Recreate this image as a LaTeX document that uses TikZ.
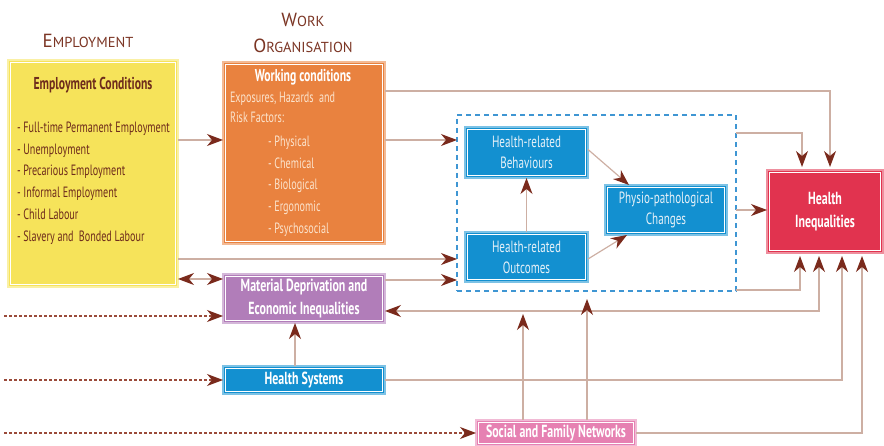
\documentclass[tikz,border=0pt]{standalone}
\usepackage{fontspec}
\setmainfont{PT Sans}
\newfontfamily\condfont[FakeStretch=0.68]{PT Sans}
\usetikzlibrary{arrows.meta}

\definecolor{empfill}{HTML}{F6E35A}
\definecolor{workfill}{HTML}{E9823F}
\definecolor{bluefill}{HTML}{1390D0}
\definecolor{hifill}{HTML}{E1334F}
\definecolor{matfill}{HTML}{B17DB9}
\definecolor{netfill}{HTML}{E681B2}
\definecolor{linec}{HTML}{CDAFA3}
\definecolor{tipc}{HTML}{7A2A1C}
\definecolor{dashc}{HTML}{9A4A3A}
\definecolor{framec}{HTML}{3F96D3}
\definecolor{headc}{HTML}{7B3524}
\definecolor{listc}{HTML}{6E2C1C}
\definecolor{worktext}{HTML}{FBE3CC}
\definecolor{bluetext}{HTML}{E6F1F8}

\tikzset{
  tipk/.tip={Stealth[length=16pt,width=12pt,inset=5pt,color=tipc]},
}

\begin{document}
\begin{tikzpicture}[x=1pt,y=-1pt,
  every node/.style={inner sep=0pt, outer sep=0pt},
  box/.style={fill=#1, draw=#1!55!white, line width=1.6pt, text=bluetext,
    align=center, anchor=north west,
    font=\condfont\fontsize{16.3}{21}\selectfont,
    path picture={\draw[white, line width=0.8pt]
      ([shift={(2.6pt,-2.6pt)}]path picture bounding box.north west) rectangle
      ([shift={(-2.6pt,2.6pt)}]path picture bounding box.south east);}},
  boldbox/.style={box=#1, text=white, font=\condfont\bfseries\fontsize{17.5}{22.5}\selectfont},
  head/.style={text=headc, anchor=base},
  listtext/.style={anchor=north west, align=left, font=\condfont\fontsize{14.9}{21.7}\selectfont},
  link/.style={draw=linec, line width=1.2pt, -tipk},
  linkboth/.style={draw=linec, line width=1.2pt, tipk-tipk},
  dlink/.style={draw=dashc, line width=1.3pt, dash pattern=on 3pt off 2pt, -tipk},
]
\useasboundingbox (0,0) rectangle (884,446);

% column headings
\node[head] (emphead) at (88,48) {\fontsize{19}{19}\selectfont E\fontsize{14.5}{14.5}\selectfont MPLOYMENT};
\node[head] (workhead1) at (303,27) {\fontsize{19}{19}\selectfont W\fontsize{14.5}{14.5}\selectfont ORK};
\node[head] (workhead2) at (303,53) {\fontsize{19}{19}\selectfont O\fontsize{14.5}{14.5}\selectfont RGANISATION};

% employment conditions
\node[box=empfill, minimum width=170pt, minimum height=227pt] (emp) at (8,60) {};
\node[anchor=base, text=listc, font=\condfont\bfseries\fontsize{17.2}{18}\selectfont] (emptitle) at (93,90) {Employment Conditions};
\node[listtext, text=listc] (emplist) at (17,122)
  {- Full-time Permanent Employment\\- Unemployment\\- Precarious Employment\\- Informal Employment\\- Child Labour\\- Slavery and~~Bonded Labour};

% working conditions
\node[box=workfill, minimum width=162pt, minimum height=182pt] (work) at (223,62) {};
\node[anchor=base, text=white, font=\condfont\bfseries\fontsize{17.2}{18}\selectfont] (worktitle) at (303,82) {Working conditions};
\node[listtext, text=worktext, font=\condfont\fontsize{14.9}{20}\selectfont] (workintro) at (230,92)
  {Exposures, Hazards~~and\\Risk Factors:};
\node[listtext, text=worktext] (worklist) at (268,136)
  {- Physical\\- Chemical\\- Biological\\- Ergonomic\\- Psychosocial};

% health-related block
\node[draw=framec, line width=2pt, dash pattern=on 5pt off 4pt, anchor=north west,
      minimum width=279pt, minimum height=176pt] (frame) at (457,115) {};
\node[box=bluefill, minimum width=123pt, minimum height=51pt] (beh) at (465,127) {Health-related\\Behaviours};
\node[box=bluefill, minimum width=123pt, minimum height=50pt] (out) at (465,232) {Health-related\\Outcomes};
\node[box=bluefill, minimum width=122pt, minimum height=50pt] (phys) at (605,185) {Physio-pathological\\Changes};

% outcome
\node[boldbox=hifill, minimum width=116pt, minimum height=83pt] (hi) at (767,170) {Health\\Inequalities};

% other determinants
\node[boldbox=matfill, minimum width=162pt, minimum height=49pt] (mat) at (223,274) {Material Deprivation and\\Economic Inequalities};
\node[boldbox=bluefill, minimum width=162pt, minimum height=28pt] (hs) at (223,366) {Health Systems};
\node[boldbox=netfill, minimum width=160pt, minimum height=26pt] (sfn) at (476,420) {Social and Family Networks};

% helper levels
\coordinate (left) at (4,0);
\coordinate (y91) at (0,91);
\coordinate (y133) at (0,133);
\coordinate (y140) at (0,140);
\coordinate (y259) at (0,259);
\coordinate (y279) at (0,279);
\coordinate (y280) at (0,280);
\coordinate (y290) at (0,290);
\coordinate (y311) at (0,311);
\coordinate (y313) at (0,314);
\coordinate (y316) at (0,316);
\coordinate (x295) at (295,0);
\coordinate (x523) at (523,0);
\coordinate (x587) at (587,0);
\coordinate (x800) at (800,0);
\coordinate (x802) at (802,0);
\coordinate (x819) at (819,0);
\coordinate (x830) at (830,0);
\coordinate (x842) at (842,0);
\coordinate (x862) at (862,0);

% connectors
\draw[link] (emp.east |- y140) -- (work.west |- y140);
\draw[link, shorten >=3pt] (work.east |- y91) -| (x830 |- hi.north);
\draw[link] (work.east |- y140) -- (frame.west |- y140);
\draw[link] (emp.east |- y259) -- (frame.west |- y259);
\draw[linkboth] (emp.east |- y279) -- (mat.west |- y279);
\draw[link] (mat.east |- y280) -- (frame.west |- y280);
\draw[link, shorten >=3pt] (frame.east |- y133) -| (x802 |- hi.north);
\draw[link] (frame.east |- phys.east) -- (hi.west |- phys.east);
\draw[link, shorten >=3pt] (frame.east |- y290) -| (x800 |- hi.south);
\draw[linkboth, shorten >=3pt] (mat.east |- y311) -| (x819 |- hi.south);
\draw[link, shorten >=3pt] (hs.east) -| (x842 |- hi.south);
\draw[link, shorten >=3pt] (sfn.east) -| (x862 |- hi.south);
\draw[link] (x295 |- hs.north) -- (x295 |- mat.south);
\draw[link] (out.north) -- (beh.south);
\draw[link] ([yshift=3pt]beh.east) -- ([xshift=24pt]phys.north west);
\draw[link] ([yshift=-2pt]out.east) -- ([xshift=22pt]phys.south west);
\draw[link] (x523 |- sfn.north) -- (x523 |- y313);
\draw[link, shorten >=8pt] (x587 |- sfn.north) -- (x587 |- frame.south);

% influences from outside the diagram
\draw[dlink] (left |- y316) -- (mat.west |- y316);
\draw[dlink] (left |- hs.west) -- (hs.west);
\draw[dlink] (left |- sfn.west) -- (sfn.west);
\end{tikzpicture}
\end{document}
